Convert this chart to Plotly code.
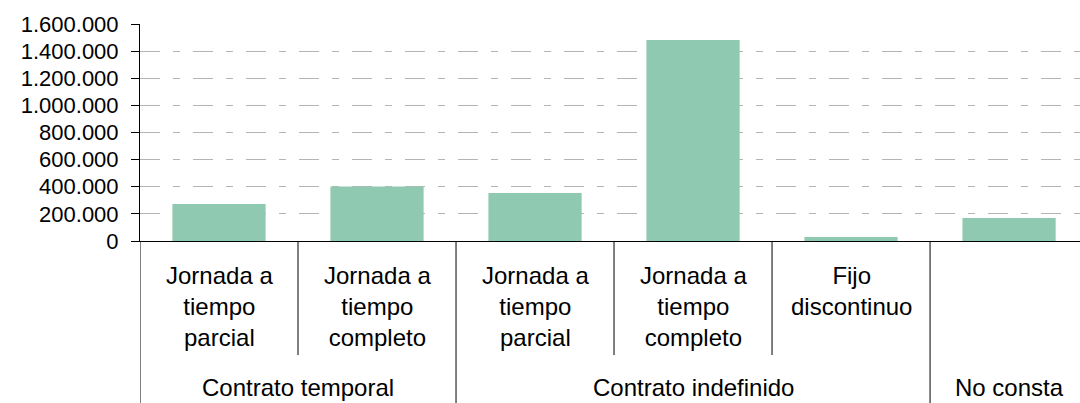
import plotly.graph_objects as go

# ---- data ----
inner_labels = [
    "Jornada a<br>tiempo<br>parcial",
    "Jornada a<br>tiempo<br>completo",
    "Jornada a<br>tiempo<br>parcial",
    "Jornada a<br>tiempo<br>completo",
    "Fijo<br>discontinuo",
    "",
]
outer_groups = ["Contrato temporal", "Contrato indefinido", "No consta"]
group_sizes = [2, 3, 1]
values = [273000, 402000, 354000, 1482000, 29000, 170000]
y_ticks = [0, 200000, 400000, 600000, 800000, 1000000, 1200000, 1400000, 1600000]

BAR_COLOR = "#90c9b1"
FONT = "Liberation Sans, Arial, sans-serif"

W, H = 1080, 403
ML, MT, MB = 140, 24, 162
plot_h = H - MT - MB

def py(pix):
    """pixel row -> paper y"""
    return (H - MB - pix) / plot_h

x = list(range(len(values)))

fig = go.Figure(
    go.Bar(x=x, y=values, width=0.59, marker=dict(color=BAR_COLOR, line=dict(width=0)))
)

shapes = []
annotations = []

for i, lab in enumerate(inner_labels):
    if lab:
        annotations.append(dict(x=i, y=py(260), xref="x", yref="paper", text=lab,
                                showarrow=False, yanchor="top", xanchor="center",
                                font=dict(size=24, color="#000", family=FONT)))

start = 0
bounds = [-0.5]
for g, n in zip(outer_groups, group_sizes):
    center = start + (n - 1) / 2
    annotations.append(dict(x=center, y=py(387), xref="x", yref="paper", text=g,
                            showarrow=False, yanchor="middle", xanchor="center",
                            font=dict(size=24, color="#000", family=FONT)))
    for k in range(1, n):
        shapes.append(dict(type="line", xref="x", yref="paper",
                           x0=start + k - 0.5, x1=start + k - 0.5,
                           y0=0, y1=py(355), line=dict(color="#000", width=1)))
    start += n
    bounds.append(start - 0.5)

for b in bounds:
    shapes.append(dict(type="line", xref="x", yref="paper", x0=b, x1=b,
                       y0=0, y1=py(410), line=dict(color="#000", width=1)))

fig.update_layout(
    width=W, height=H,
    margin=dict(l=ML, r=0, t=MT, b=MB, pad=0),
    paper_bgcolor="white", plot_bgcolor="white",
    separators=",.",
    showlegend=False,
    shapes=shapes,
    annotations=annotations,
    xaxis=dict(range=[-0.5, 5.449], showticklabels=False, showgrid=False,
               zeroline=False, showline=True, linecolor="#000", linewidth=1,
               ticks=""),
    yaxis=dict(range=[0, 1600000], tickvals=y_ticks, tickformat=",d",
               showgrid=True, gridcolor="#b4b4b4", gridwidth=1,
               griddash="20px,13px,7px,13px",
               zeroline=False, showline=True, linecolor="#000", linewidth=1,
               ticks="outside", ticklen=8, tickcolor="#000",
               ticklabelstandoff=8,
               tickfont=dict(size=22, color="#000", family=FONT)),
)

fig.write_html("out.html",
               config={"displayModeBar": False},
               post_script="document.body.style.margin='0';document.body.style.overflow='hidden';")
